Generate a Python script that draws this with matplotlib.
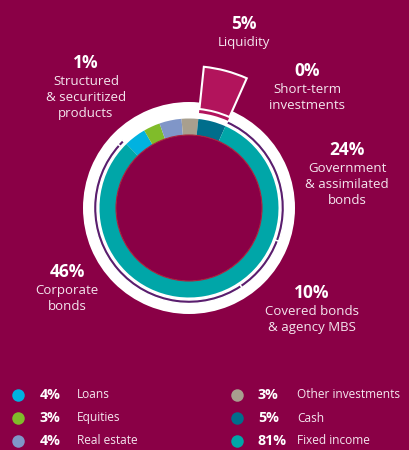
import matplotlib.pyplot as plt
import numpy as np

# asset allocation (inner ring), in legend order
categories = ["Loans", "Equities", "Real estate", "Other investments", "Cash", "Fixed income"]
shares = [4, 3, 4, 3, 5, 81]
colors = ["#00B2E0", "#80BC2A", "#8096C8", "#A89F8E", "#006E8C", "#00A6A8"]

# fixed income breakdown (outer purple arc), clockwise after cash
fi_labels = ["Government\n& assimilated\nbonds", "Covered bonds\n& agency MBS", "Corporate\nbonds",
             "Structured\n& securitized\nproducts", "Short-term\ninvestments"]
fi_shares = [24, 10, 46, 1, 0]
liquidity_label = "Liquidity"
liquidity_share = 5

BG = "#8A0046"
PURPLE = "#5A1E6E"
WEDGE = "#B2145C"
W, H = 410, 450

fig = plt.figure(figsize=(W / 100, H / 100), dpi=100, facecolor=BG)
ax = fig.add_axes([0, 0, 1, 1])

def Y(y):
  return H - y

cx, cy = 189, Y(208)
cash_offset = 6  # degrees clockwise from 12 o'clock where cash starts

# white backing disc
ax.pie([1], radius=106, center=(cx, cy), colors=["white"], frame=True)

# inner ring
before_cash = sum(shares[:4])
start = 90 - (cash_offset - 3.6 * before_cash)
ax.pie(shares, radius=89.5, center=(cx, cy), colors=colors, startangle=start,
       counterclock=False, wedgeprops=dict(width=16.5, linewidth=0), frame=True)
ax.pie([1], radius=73, center=(cx, cy), colors=[BG],
       wedgeprops=dict(edgecolor="#A8203C", linewidth=0.8), frame=True)

# purple arcs for fixed income breakdown
fi_start = 90 - (cash_offset + 3.6 * shares[4])
ax.pie([v / 100 for v in fi_shares], radius=95.5, center=(cx, cy), colors=[PURPLE],
       startangle=fi_start, counterclock=False, normalize=False,
       wedgeprops=dict(width=3.5, edgecolor="white", linewidth=1.0), frame=True)

# exploded liquidity wedge
liq_start = 90 - cash_offset
ax.pie([liquidity_share / 100], radius=142, center=(cx, cy), colors=[WEDGE],
       startangle=liq_start, counterclock=False, normalize=False,
       wedgeprops=dict(width=42.5, edgecolor="white", linewidth=1.5), frame=True)
ax.pie([liquidity_share / 100], radius=98.5, center=(cx, cy), colors=[WEDGE],
       startangle=liq_start, counterclock=False, normalize=False,
       wedgeprops=dict(width=3, linewidth=0), frame=True)

ax.set_xlim(0, W)
ax.set_ylim(0, H)
ax.set_aspect("equal")
ax.axis("off")

# callout labels
label_pos = [(347, 150), (312, 293), (67, 272), (86, 63), (307, 71)]
def callout(x, y, pct, txt):
  ax.text(x, Y(y), f"{pct}%", ha="center", va="center", color="white",
          fontsize=12.5, fontweight="bold", family="Open Sans")
  ax.text(x, Y(y + 12), txt, ha="center", va="top", color="#F4E6EE",
          fontsize=9.5, family="Open Sans", linespacing=1.3)

for (x, y), pct, txt in zip(label_pos, fi_shares, fi_labels):
  callout(x, y, pct, txt)
callout(244, 24, liquidity_share, liquidity_label)

# legend
rows = [395, 418, 441]
cols = [(18, 40, 77), (237, 258, 297)]
for i, (name, val, col) in enumerate(zip(categories, shares, colors)):
  dx, px, lx = cols[i // 3]
  y = Y(rows[i % 3])
  ax.plot([dx], [y], "o", color=col, markersize=9, markeredgewidth=0)
  ax.text(px, y, f"{val}%", ha="left", va="center", color="white",
          fontsize=10.3, fontweight="bold", family="Open Sans")
  ax.text(lx, y, name, ha="left", va="center", color="#F4E6EE",
          fontsize=8.6, family="Open Sans")

fig.savefig("out.png", dpi=100, facecolor=BG)
